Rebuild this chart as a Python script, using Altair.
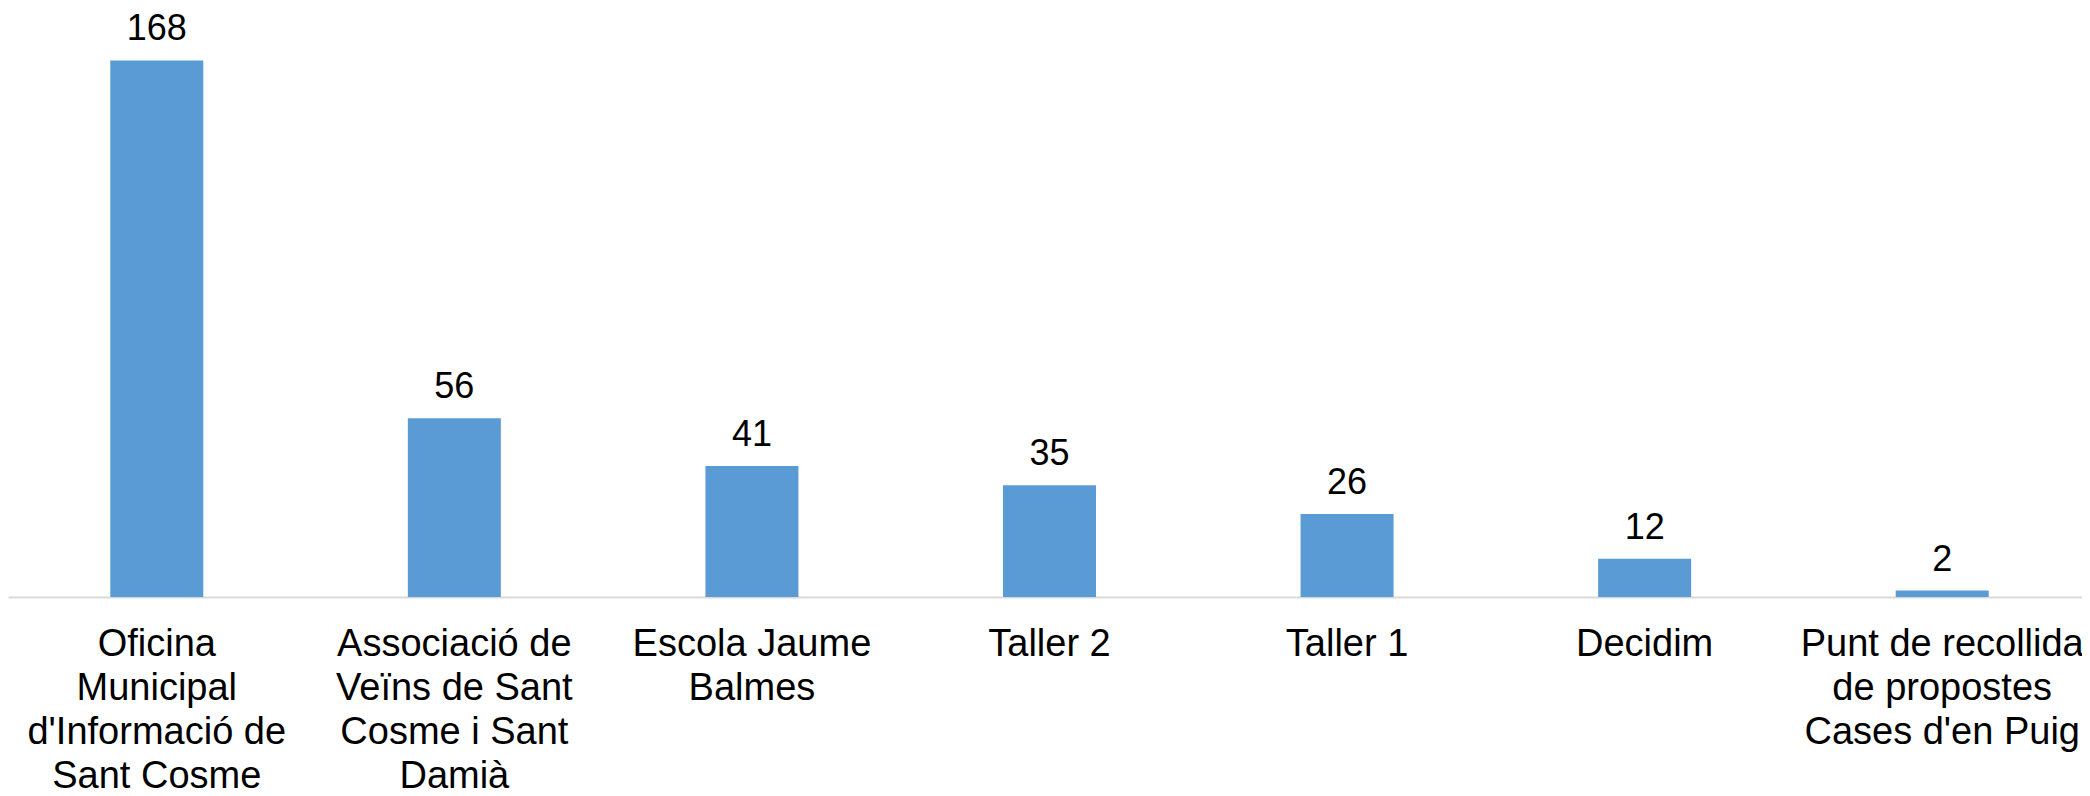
import altair as alt
import pandas as pd

categories = [
    "Oficina Municipal d'Informació de Sant Cosme",
    "Associació de Veïns de Sant Cosme i Sant Damià",
    "Escola Jaume Balmes",
    "Taller 2",
    "Taller 1",
    "Decidim",
    "Punt de recollida de propostes Cases d'en Puig",
]
label_lines = [
    ["Oficina", "Municipal", "d'Informació de", "Sant Cosme"],
    ["Associació de", "Veïns de Sant", "Cosme i Sant", "Damià"],
    ["Escola Jaume", "Balmes"],
    ["Taller 2"],
    ["Taller 1"],
    ["Decidim"],
    ["Punt de recollida", "de propostes", "Cases d'en Puig"],
]
values = [168, 56, 41, 35, 26, 12, 2]

df = pd.DataFrame({
    "cat": ["\n".join(l) for l in label_lines],
    "name": categories,
    "value": values,
})
order = list(df["cat"])

x = alt.X(
    "cat:N",
    sort=order,
    scale=alt.Scale(range=[0, 2083], paddingInner=0.6875, paddingOuter=0.34375),
    axis=alt.Axis(
        title=None,
        labelAngle=0,
        labelExpr="split(datum.label, '\\n')",
        labelFont="Liberation Sans",
        labelFontSize=38,
        labelLineHeight=44.3,
        labelColor="#000000",
        labelPadding=28,
        ticks=False,
        domainColor="#d9d9d9",
        domainWidth=2,
        labelLimit=0,
    ),
)
y = alt.Y(
    "value:Q",
    scale=alt.Scale(domain=[0, 184.4], nice=False),
    axis=None,
)

bars = alt.Chart(df).mark_bar(color="#5b9bd5").encode(x=x, y=y)
labels = alt.Chart(df).mark_text(
    baseline="alphabetic", dy=-20, font="Liberation Sans", fontSize=36, color="#000000"
).encode(x=alt.X("cat:N", sort=order), y="value:Q", text="value:Q")

chart = (
    alt.layer(bars, labels)
    .properties(
        width=2074,
        height=589,
        padding={"left": 0, "top": 0, "right": 0, "bottom": 191},
        autosize=alt.AutoSizeParams(type="none"),
    )
    .configure_view(stroke=None)
)

chart.save("out.html", embed_options={"renderer": "svg", "actions": False})
